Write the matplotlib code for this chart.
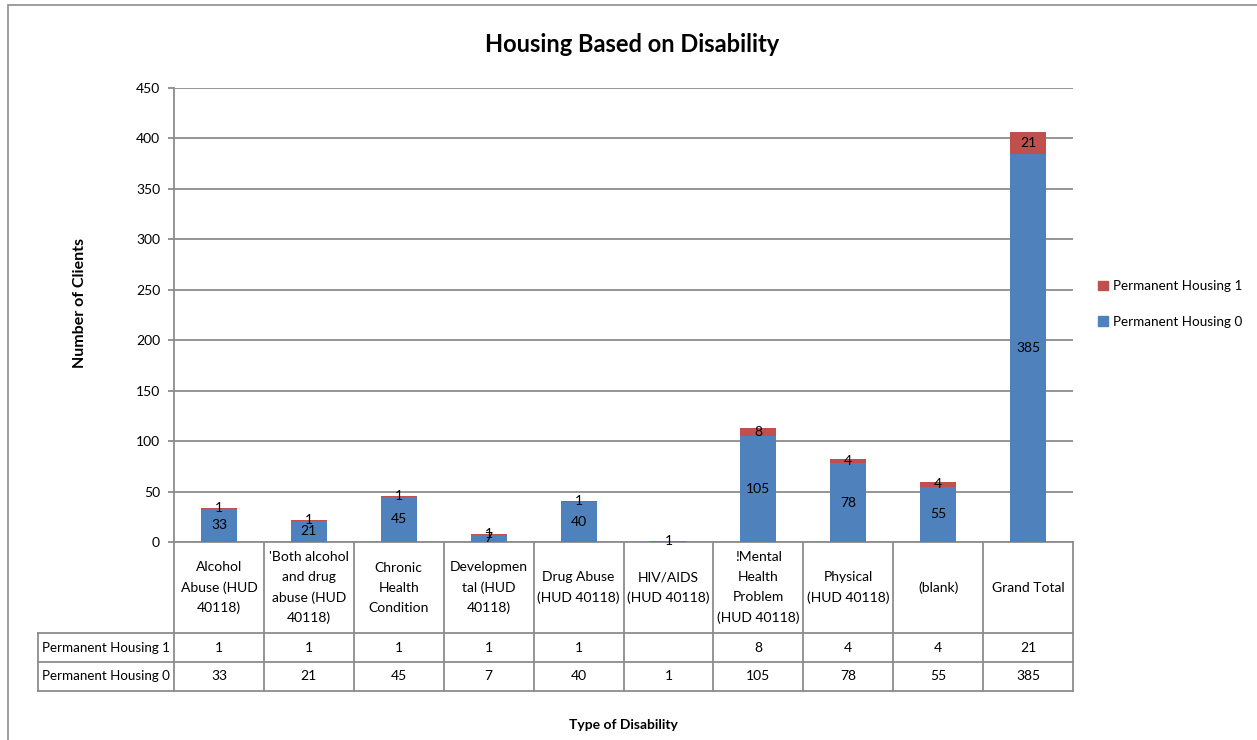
import numpy as np
import matplotlib.pyplot as plt
from matplotlib.lines import Line2D
from matplotlib.patches import Patch, Rectangle
from matplotlib.transforms import blended_transform_factory

plt.rcParams['font.family'] = ['Lato', 'DejaVu Sans']

categories = ["Alcohol\nAbuse (HUD\n40118)", "'Both alcohol\nand drug\nabuse (HUD\n40118)",
              "Chronic\nHealth\nCondition", "Developmen\ntal (HUD\n40118)",
              "Drug Abuse\n(HUD 40118)", "HIV/AIDS\n(HUD 40118)",
              "!Mental\nHealth\nProblem\n(HUD 40118)", "Physical\n(HUD 40118)",
              "(blank)", "Grand Total"]
ph0 = [33, 21, 45, 7, 40, 1, 105, 78, 55, 385]
ph1 = [1, 1, 1, 1, 1, np.nan, 8, 4, 4, 21]
series_names = ["Permanent Housing 1", "Permanent Housing 0"]

blue = '#4F81BD'
red = '#C0504D'
grey = '#8C8C8C'

W, H = 1257, 740
fig = plt.figure(figsize=(W / 100, H / 100), dpi=100)

# plot area in pixels
L, R, T, B = 174, 1073, 88, 542
ax = fig.add_axes([L / W, 1 - B / H, (R - L) / W, (B - T) / H])

x = np.arange(len(categories))
ph1_vals = np.nan_to_num(np.array(ph1, dtype=float))
ax.bar(x, ph0, width=0.4, color=blue, zorder=3)
ax.bar(x, ph1_vals, bottom=ph0, width=0.4, color=red, zorder=3)

for i in range(len(x)):
    ax.text(x[i], ph0[i] / 2, str(ph0[i]), ha='center', va='center', fontsize=10, zorder=4)
    if not np.isnan(ph1[i]):
        ax.text(x[i], ph0[i] + ph1[i] / 2, str(int(ph1[i])), ha='center', va='center',
                fontsize=10, zorder=4)

ax.set_xlim(-0.5, len(x) - 0.5)
ax.set_ylim(0, 450)
ax.set_yticks(np.arange(0, 451, 50))
ax.set_xticks([])
ax.grid(axis='y', color=grey, linewidth=1.3, zorder=0)
for s in ['top', 'right', 'bottom']:
    ax.spines[s].set_visible(False)
ax.spines['left'].set_color(grey)
ax.spines['left'].set_linewidth(1.3)
ax.tick_params(axis='y', length=4, color=grey, width=1.3, labelsize=10, pad=6)

fig.text(80 / W, 1 - 303 / H, "Number of Clients", rotation=90, ha='center', va='center',
         fontsize=11.5, fontweight='bold')

# data table under the axis
tr = blended_transform_factory(ax.transData, ax.transAxes)
def ay(py):
    return (B - py) / (B - T)

rows = [542, 633, 662, 691]
x_lo = -0.5
x_hi = len(x) - 0.5
x_left = -0.5 - (L - 38) / ((R - L) / len(x))
lk = dict(color=grey, linewidth=1.3, transform=tr, clip_on=False)

ax.add_line(Line2D([x_lo, x_hi], [ay(rows[0])] * 2, **lk))
for py in rows[1:]:
    ax.add_line(Line2D([x_left, x_hi], [ay(py)] * 2, **lk))
for k in range(len(x) + 1):
    ax.add_line(Line2D([x_lo + k] * 2, [ay(rows[0]), ay(rows[-1])], **lk))
ax.add_line(Line2D([x_left] * 2, [ay(rows[1]), ay(rows[-1])], **lk))

for i, c in enumerate(categories):
    ax.text(x[i], ay((rows[0] + rows[1]) / 2), c, transform=tr, ha='center', va='center',
            fontsize=10, linespacing=1.8)
    v1 = '' if np.isnan(ph1[i]) else str(int(ph1[i]))
    ax.text(x[i], ay((rows[1] + rows[2]) / 2), v1, transform=tr, ha='center', va='center', fontsize=10)
    ax.text(x[i], ay((rows[2] + rows[3]) / 2), str(ph0[i]), transform=tr, ha='center', va='center', fontsize=10)

ax.text(x_left + 0.04, ay((rows[1] + rows[2]) / 2), series_names[0], transform=tr,
        ha='left', va='center', fontsize=9.6)
ax.text(x_left + 0.04, ay((rows[2] + rows[3]) / 2), series_names[1], transform=tr,
        ha='left', va='center', fontsize=9.6)

fig.text(623 / W, 1 - 725 / H, "Type of Disability", ha='center', va='center',
         fontsize=10, fontweight='bold')
fig.text(632 / W, 1 - 45 / H, "Housing Based on Disability", ha='center', va='center',
         fontsize=17, fontweight='bold')

handles = [Patch(color=red), Patch(color=blue)]
fig.legend(handles, series_names, loc='upper left', bbox_to_anchor=(1086 / W, 1 - 268 / H),
           frameon=False, fontsize=9.7, handlelength=0.7, handleheight=0.7,
           handletextpad=0.4, labelspacing=1.75)

# chart border
fig.add_artist(Rectangle((8 / W, -0.1), 1.2, 1 - 5 / H + 0.1, transform=fig.transFigure,
                         fill=False, edgecolor=grey, linewidth=1.2))

fig.savefig('out.png', dpi=100)
